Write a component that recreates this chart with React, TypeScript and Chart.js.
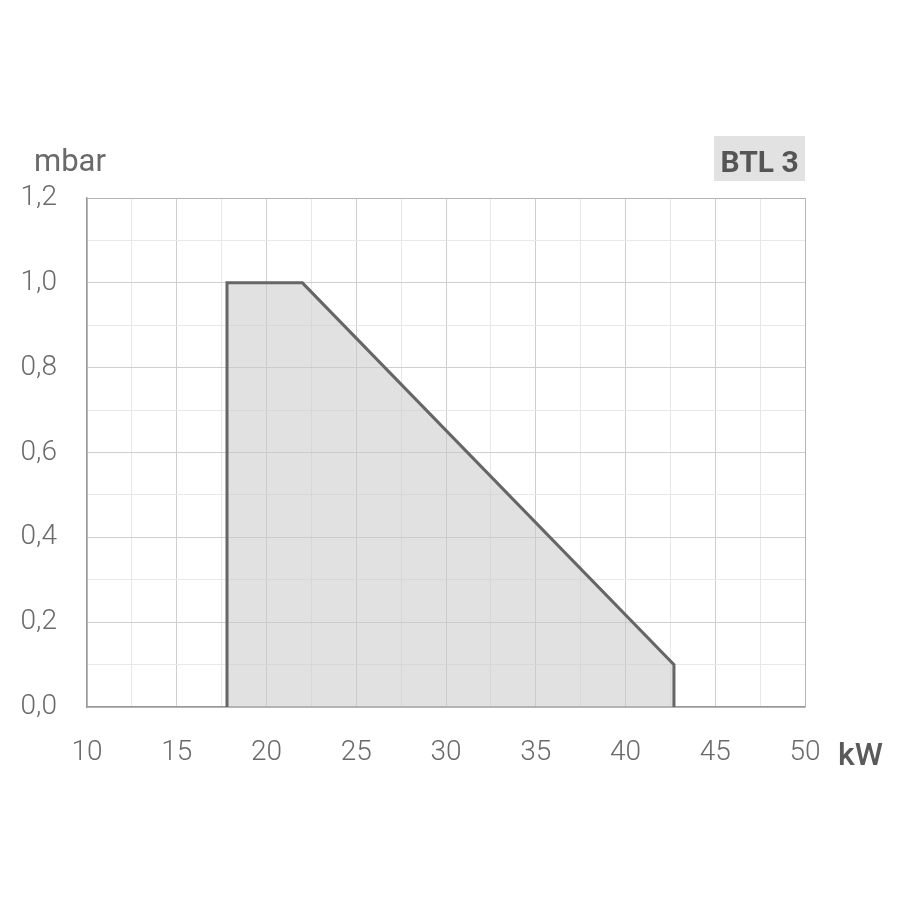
import React, { useEffect, useRef } from "react";
import { Chart, registerables } from "chart.js";

Chart.register(...registerables);

const kW = [17.8, 17.8, 22, 42.7, 42.7];
const mbar = [0, 1.0, 1.0, 0.1, 0];
const xTickLabels = ["10", "15", "20", "25", "30", "35", "40", "45", "50"];
const yTickLabels = ["0,0", "0,2", "0,4", "0,6", "0,8", "1,0", "1,2"];
const xUnit = "kW";
const yUnit = "mbar";
const modelName = "BTL 3";

const FONT = "Roboto";
const TEXT = "#6a6a6a";

export default function App() {
  const ref = useRef<HTMLCanvasElement | null>(null);
  useEffect(() => {
    if (!ref.current) return;
    const isMajorX = (v: number) => Math.abs(v / 5 - Math.round(v / 5)) < 1e-6;
    const isMajorY = (v: number) => Math.abs(v / 0.2 - Math.round(v / 0.2)) < 1e-6;
    const decor = {
      id: "decor",
      afterDraw(chart: any) {
        const { ctx, chartArea } = chart;
        ctx.save();
        ctx.strokeStyle = "#b4b4b4";
        ctx.lineWidth = 1;
        ctx.beginPath();
        ctx.moveTo(chartArea.left, chartArea.top + 0.5);
        ctx.lineTo(chartArea.right + 0.5, chartArea.top + 0.5);
        ctx.lineTo(chartArea.right + 0.5, chartArea.bottom);
        ctx.stroke();
        ctx.fillStyle = TEXT;
        ctx.font = `400 31px ${FONT}`;
        ctx.textBaseline = "alphabetic";
        ctx.textAlign = "left";
        ctx.fillText(yUnit, 34, 171);
        ctx.fillStyle = "#5a5a5a";
        ctx.font = `500 32px ${FONT}`;
        ctx.fillText(xUnit, 838, 765);
        ctx.fillStyle = "#e2e2e2";
        ctx.fillRect(714, 136, 91, 45);
        ctx.fillStyle = "#555555";
        ctx.font = `700 30px ${FONT}`;
        ctx.textAlign = "center";
        ctx.fillText(modelName, 759.5, 172);
        ctx.restore();
      },
    };
    const chart = new Chart(ref.current, {
      type: "scatter",
      data: {
        datasets: [
          {
            data: kW.map((x, i) => ({ x, y: mbar[i] })),
            showLine: true,
            fill: "origin",
            backgroundColor: "rgba(200,200,200,0.55)",
            borderColor: "#666666",
            borderWidth: 3,
            pointRadius: 0,
            tension: 0,
          },
        ],
      },
      options: {
        responsive: false,
        animation: false,
        layout: { padding: { left: 0, top: 198, right: 95, bottom: 0 } },
        plugins: { legend: { display: false }, tooltip: { enabled: false } },
        scales: {
          x: {
            type: "linear",
            min: 10,
            max: 50,
            afterFit: (s: any) => {
              s.height = 193;
            },
            ticks: {
              stepSize: 2.5,
              autoSkip: false,
              maxRotation: 0,
              padding: 29,
              color: TEXT,
              font: { family: FONT, size: 28, weight: "300" },
              callback: (v: any) => {
                const n = Number(v);
                if (!isMajorX(n)) return "";
                const idx = Math.round((n - 10) / 5);
                return xTickLabels[idx] ?? "";
              },
            },
            grid: {
              drawTicks: false,
              color: (c: any) => (isMajorX(c.tick.value) ? "#cfcfcf" : "#e8e8e8"),
              lineWidth: 1,
            },
            border: { color: "#999999", width: 1.5 },
          },
          y: {
            type: "linear",
            min: 0,
            max: 1.2,
            afterFit: (s: any) => {
              s.width = 87;
            },
            ticks: {
              stepSize: 0.1,
              autoSkip: false,
              padding: 30,
              color: TEXT,
              font: { family: FONT, size: 28, weight: "300" },
              callback: (v: any) => {
                const n = Number(v);
                if (!isMajorY(n)) return "";
                const idx = Math.round(n / 0.2);
                return yTickLabels[idx] ?? "";
              },
            },
            grid: {
              drawTicks: false,
              color: (c: any) => (isMajorY(c.tick.value) ? "#cfcfcf" : "#e8e8e8"),
              lineWidth: 1,
            },
            border: { color: "#999999", width: 1.5 },
          },
        },
      },
      plugins: [decor],
    });
    return () => chart.destroy();
  }, []);
  return (
    <div style={{ position: "absolute", left: 0, top: 0, width: 900, height: 900, background: "#fff" }}>
      <canvas ref={ref} width={900} height={900} style={{ display: "block" }} />
    </div>
  );
}
